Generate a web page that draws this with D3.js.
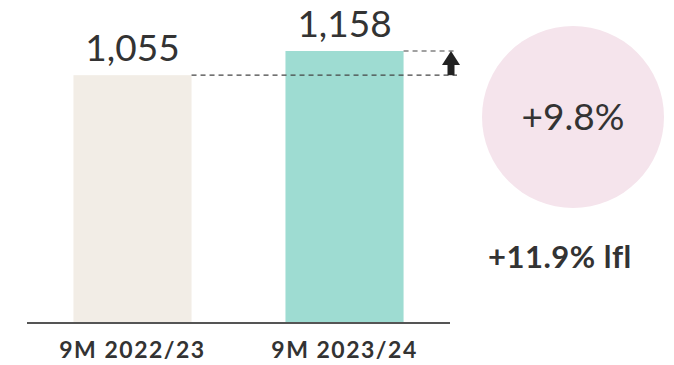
<!DOCTYPE html>
<html>
<head>
<meta charset="utf-8">
<script src="https://cdn.jsdelivr.net/npm/d3@7"></script>
<style>
  html, body { margin: 0; padding: 0; background: #fff; }
  svg { display: block; font-family: Lato, "Noto Sans", sans-serif; }
</style>
</head>
<body>
<svg id="chart" width="674" height="365"></svg>
<script>
// Nine-month figures for the two periods
const categories = ["9M 2022/23", "9M 2023/24"];
const values = [1055, 1158];
const valueLabels = ["1,055", "1,158"];
const barColors = ["#f2ede6", "#9edcd2"];
const growthLabel = "+9.8%";
const lflLabel = "+11.9% lfl";

const svg = d3.select("#chart");
const textColor = "#333333";

const x = d3.scaleBand()
  .domain(categories)
  .range([27, 450])
  .paddingInner(0.443)
  .paddingOuter(0.219);

const y = d3.scaleLinear()
  .domain([0, 1158])
  .range([323, 51]);

// Bars
svg.selectAll("rect.bar")
  .data(values)
  .join("rect")
  .attr("class", "bar")
  .attr("x", (d, i) => x(categories[i]))
  .attr("y", d => y(d))
  .attr("width", x.bandwidth())
  .attr("height", d => y(0) - y(d))
  .attr("fill", (d, i) => barColors[i]);

// Value labels above bars
svg.selectAll("text.value")
  .data(values)
  .join("text")
  .attr("class", "value")
  .attr("x", (d, i) => x(categories[i]) + x.bandwidth() / 2)
  .attr("y", d => y(d) - 14)
  .attr("text-anchor", "middle")
  .attr("font-size", 37)
  .attr("fill", textColor)
  .text((d, i) => valueLabels[i]);

// Baseline axis
const axis = svg.append("g")
  .attr("transform", `translate(0,${y(0)})`)
  .call(d3.axisBottom(x).tickSize(0).tickPadding(18.5));
axis.select(".domain")
  .attr("d", `M27,0H450`)
  .attr("stroke", "#555")
  .attr("stroke-width", 2);
axis.selectAll(".tick text")
  .attr("font-family", "Lato, 'Noto Sans', sans-serif")
  .attr("font-size", 23)
  .attr("font-weight", 700)
  .attr("letter-spacing", 1.5)
  .attr("fill", textColor)
  .attr("dy", "0.71em");

// Dashed reference lines from each bar top to the growth arrow
const arrowX = 451;
const dashEnd = 457;
values.forEach((v, i) => {
  svg.append("line")
    .attr("x1", x(categories[i]) + x.bandwidth())
    .attr("x2", dashEnd)
    .attr("y1", y(v))
    .attr("y2", y(v))
    .attr("stroke", "#444")
    .attr("stroke-width", 1.2)
    .attr("stroke-dasharray", "5,4");
});

// Upward arrow between the two levels
svg.append("rect")
  .attr("x", arrowX - 3.5)
  .attr("y", y(values[1]) + 13)
  .attr("width", 7)
  .attr("height", y(values[0]) - y(values[1]) - 13)
  .attr("fill", "#222");
svg.append("path")
  .attr("d", `M${arrowX - 9},${y(values[1]) + 14}L${arrowX},${y(values[1])}L${arrowX + 9},${y(values[1]) + 14}Z`)
  .attr("fill", "#222");

// Growth bubble
svg.append("circle")
  .attr("cx", 573)
  .attr("cy", 117)
  .attr("r", 91)
  .attr("fill", "#f5e4ec");
svg.append("text")
  .attr("x", 573)
  .attr("y", 130)
  .attr("text-anchor", "middle")
  .attr("font-size", 37)
  .attr("fill", textColor)
  .text(growthLabel);

// Like-for-like growth note
svg.append("text")
  .attr("x", 488)
  .attr("y", 268)
  .attr("font-size", 31)
  .attr("font-weight", 700)
  .attr("letter-spacing", 0.5)
  .attr("fill", textColor)
  .text(lflLabel);
</script>
</body>
</html>
